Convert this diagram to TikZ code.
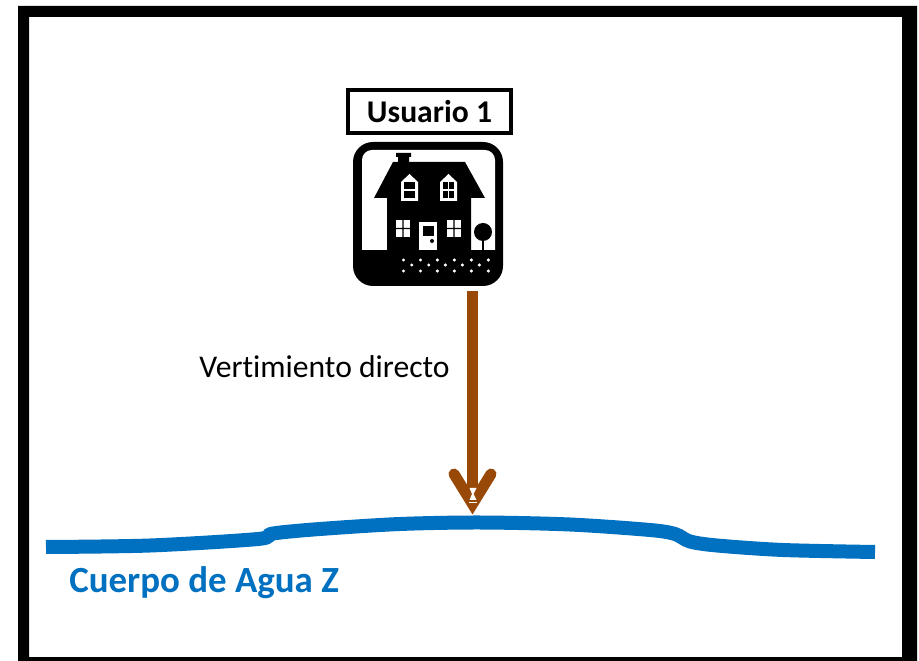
\documentclass[tikz,border=0pt]{standalone}
\usepackage{fontspec}
\usepackage{xcolor}
\setmainfont[Ligatures=NoCommon]{Carlito}
\usetikzlibrary{positioning}
\definecolor{aguablue}{HTML}{0070C0}
\definecolor{vertbrown}{HTML}{984807}
\tikzset{
  etiqueta/.style={draw=black, line width=4*0.02cm, minimum width=163*0.02cm, minimum height=43*0.02cm, inner sep=0pt, font=\fontsize{18}{20}\bfseries},
  casabase/.style={fill=black, rounded corners=20*0.02cm, minimum width=150*0.02cm, minimum height=144*0.02cm, inner sep=0pt},
  vertido/.style={draw=vertbrown, line width=11*0.02cm},
  rio/.style={draw=aguablue, line width=14*0.02cm},
  puntito/.style={fill=white, draw=none}
}
\begin{document}
\begin{tikzpicture}[x=0.02cm, y=-0.02cm]
\useasboundingbox (0,0) rectangle (919,661);
\fill[white] (0,0) rectangle (919,661);
% marco
\fill[black, even odd rule] (18,6) rectangle (917,661) (29,17) rectangle (902,657);

\node[casabase] (casa) at (428,214) {};
\node[etiqueta, above=6.5*0.02cm of casa, xshift=1.5*0.02cm] (usuario) {\raisebox{-2.4pt}{Usuario 1}};

% ventana blanca de la casa
\fill[white] (362,250) -- (362,160) [rounded corners=10*0.02cm] -- (362,150) -- (495,150) [sharp corners] -- (495,160) -- (495,250) -- cycle;
\fill[black] (393,162) -- (465,162) -- (485,198) -- (471,198) -- (471,250) -- (387,250) -- (387,198) -- (374,198) -- cycle;
\fill[black] (396,153) rectangle (411,157) (398,157) rectangle (409,162);
% buhardillas
\foreach \xd in {401,440} {
  \fill[white] (\xd,201) -- (\xd,182) -- (\xd+8.5,174) -- (\xd+17,182) -- (\xd+17,201) -- cycle;
  \fill[black] (\xd+3,182) rectangle (\xd+14,198);
  \fill[white] (\xd+3,189.3) rectangle (\xd+14,190.7);
}
\fill[white] (447.8,182) rectangle (449.2,198);
% ventanas y puerta
\foreach \xv in {396,447} {
  \fill[white] (\xv,220) rectangle (\xv+14,237);
  \fill[black] (\xv+6.3,220) rectangle (\xv+7.7,237) (\xv,227.8) rectangle (\xv+14,229.2);
}
\fill[white] (419,222) rectangle (437,250);
\fill[black] (423,226) rectangle (434,236);
\fill[black] (432,241) circle (2);
% arbol
\fill[black] (483,232) circle (9);
\draw[black, line width=2*0.02cm] (483,235) -- (483,250);
% jardin
\foreach \xp in {403.5,420.5,437.3,454.3,471.3,488.3} {
  \fill[puntito] (\xp,260) circle (1.7);
  \fill[puntito] (\xp,271) circle (1.7);
}
\foreach \xp in {411.7,428.7,445.3,462.3,479.3} {
  \fill[puntito] (\xp,265) circle (1.7);
}

% cuerpo de agua
\draw[rio] plot[smooth, tension=0.5] coordinates {(46,547) (150,545.5) (258,539) (273,533.5) (320,529) (400,524) (480,522.5) (570,524.5) (650,530) (675,534) (690,541.5) (717,545.5) (783,550) (875,552)};
\node[text=aguablue, inner sep=0pt, font=\fontsize{21}{25}\bfseries, anchor=base west] (cuerpo) at (69,592.7) {Cuerpo de Agua Z};

% vertimiento
\coordinate (salida) at (472.5,291);
\coordinate (punta) at (472.5,504);
\draw[vertido] (salida) -- (472.5,500);
\draw[vertido, line cap=round, miter limit=20] (454,474) -- (punta) -- (491,474);
\fill[white] (469.5,488) -- (476.5,488) -- (473.5,494) -- (476.5,500) -- (469.5,500) -- (472,494) -- cycle;
\fill[white] (469,502) rectangle (477,503.5);
\node[anchor=base east, inner sep=0pt, font=\fontsize{18}{22}\selectfont] (vertlabel) at (450,377.5) {Vertimiento directo};
\end{tikzpicture}
\end{document}
